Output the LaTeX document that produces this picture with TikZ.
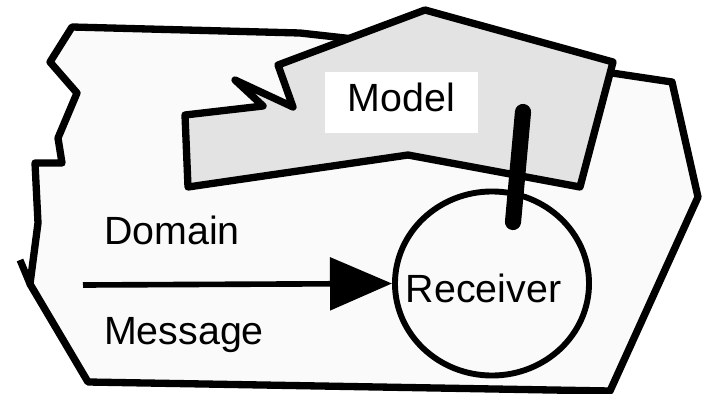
\documentclass[tikz,border=0pt]{standalone}
\usepackage{fontspec}
\setmainfont{Liberation Sans}
\usetikzlibrary{arrows.meta,shapes.geometric}

\begin{document}
\begin{tikzpicture}
        [
            x = 0.025cm, y = -0.025cm,
            region/.style = {draw, line width = 5.2pt, line join = round},
            word/.style = {font = \fontsize{28}{34}\selectfont, inner sep = 0pt},
            message/.style = {line width = 4pt, -{Triangle[length = 1.55cm, width = 1.3cm]}}
        ]
        \useasboundingbox (0,0) rectangle (704,394);

        % the domain outline
        \draw[region, fill = black!2]
            (72,27) -- (300,33) -- (345,38) -- (500,60) -- (612,73) -- (672,82)
            -- (698,197) -- (610,391) -- (88,382) -- (30,284) -- (38,223)
            -- (35,163) -- (62,163) -- (58,138) -- (77,93) -- (50,62) -- cycle;
        \draw[line width = 5pt] (30,284) -- (20,260);

        % the model, drawn over the domain
        \draw[region, fill = black!11]
            (278,65) -- (293,107) -- (235,80) -- (263,106) -- (185,115)
            -- (188,187) -- (408,155) -- (580,187) -- (613,62) -- (425,10) -- cycle;
        \node[word, fill = white, minimum width = 3.825cm, minimum height = 1.525cm,
              text depth = 6.9pt] (model) at (401.5,102.5) {Model};

        \node[word] (domain) at (172,230) {Domain};
        \node[word, anchor = base] (msg) at (184,344) {Message};

        % the receiver
        \node[draw, ellipse, line width = 4.2pt, minimum width = 4.85cm,
              minimum height = 4.6cm] (receiver) at (492,283.5) {};
        \node[word, anchor = base] (rcvtext) at (483.5,302) {Receiver};

        \coordinate (sender) at (83,285);
        \coordinate (link) at (523,112);
        \coordinate (hook) at (513,222);

        \draw[message] (sender) -- (receiver.west);
        \draw[line width = 11.5pt, line cap = round] (link) -- (hook);
    \end{tikzpicture}
\end{document}
